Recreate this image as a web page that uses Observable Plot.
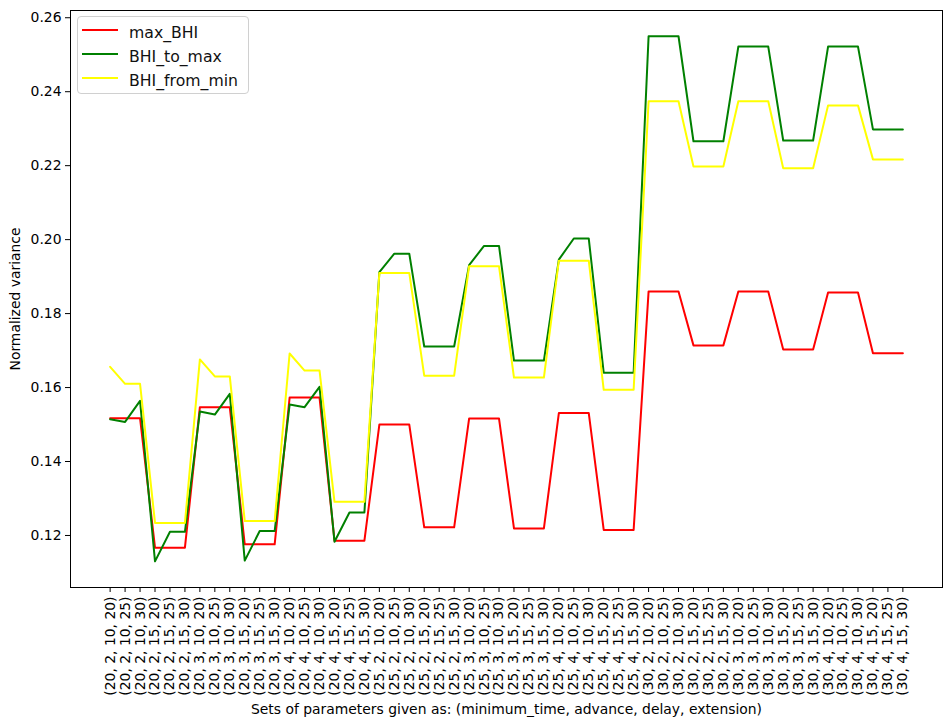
<!DOCTYPE html>
<html><head><meta charset="utf-8">
<script src="https://cdn.jsdelivr.net/npm/d3@7"></script>
<script src="https://cdn.jsdelivr.net/npm/@observablehq/plot@0.6"></script>
<style>
body{margin:0;background:#fff;font-family:"DejaVu Sans",sans-serif;}
#wrap{position:relative;width:952px;height:726px;}
#legend{position:absolute;left:77px;top:16px;width:170px;height:76px;background:rgba(255,255,255,0.8);border:1px solid #d0d0d0;border-radius:4px;}
#legend .row{position:absolute;left:4px;height:22px;display:flex;align-items:center;font-size:15.7px;color:#111;white-space:nowrap;}
#legend .sw{width:36px;height:2.5px;margin-right:11px;}
</style></head><body><div id="wrap"></div>
<script>
const categories = [
"(20, 2, 10, 20)","(20, 2, 10, 25)","(20, 2, 10, 30)","(20, 2, 15, 20)","(20, 2, 15, 25)","(20, 2, 15, 30)",
"(20, 3, 10, 20)","(20, 3, 10, 25)","(20, 3, 10, 30)","(20, 3, 15, 20)","(20, 3, 15, 25)","(20, 3, 15, 30)",
"(20, 4, 10, 20)","(20, 4, 10, 25)","(20, 4, 10, 30)","(20, 4, 15, 20)","(20, 4, 15, 25)","(20, 4, 15, 30)",
"(25, 2, 10, 20)","(25, 2, 10, 25)","(25, 2, 10, 30)","(25, 2, 15, 20)","(25, 2, 15, 25)","(25, 2, 15, 30)",
"(25, 3, 10, 20)","(25, 3, 10, 25)","(25, 3, 10, 30)","(25, 3, 15, 20)","(25, 3, 15, 25)","(25, 3, 15, 30)",
"(25, 4, 10, 20)","(25, 4, 10, 25)","(25, 4, 10, 30)","(25, 4, 15, 20)","(25, 4, 15, 25)","(25, 4, 15, 30)",
"(30, 2, 10, 20)","(30, 2, 10, 25)","(30, 2, 10, 30)","(30, 2, 15, 20)","(30, 2, 15, 25)","(30, 2, 15, 30)",
"(30, 3, 10, 20)","(30, 3, 10, 25)","(30, 3, 10, 30)","(30, 3, 15, 20)","(30, 3, 15, 25)","(30, 3, 15, 30)",
"(30, 4, 10, 20)","(30, 4, 10, 25)","(30, 4, 10, 30)","(30, 4, 15, 20)","(30, 4, 15, 25)","(30, 4, 15, 30)"
];
const maxBHI = [
0.1517,0.1517,0.1517, 0.1167,0.1167,0.1167, 0.1547,0.1547,0.1547, 0.1176,0.1176,0.1176, 0.1573,0.1573,0.1573, 0.1186,0.1186,0.1186,
0.1500,0.1500,0.1500, 0.1222,0.1222,0.1222, 0.1516,0.1516,0.1516, 0.1219,0.1219,0.1219, 0.1531,0.1531,0.1531, 0.1215,0.1215,0.1215,
0.1860,0.1860,0.1860, 0.1714,0.1714,0.1714, 0.1860,0.1860,0.1860, 0.1703,0.1703,0.1703, 0.1857,0.1857,0.1857, 0.1693,0.1693,0.1693
];
const bhiToMax = [
0.1514,0.1507,0.1564, 0.1130,0.1210,0.1210, 0.1535,0.1527,0.1583, 0.1132,0.1212,0.1212, 0.1554,0.1547,0.1602, 0.1183,0.1262,0.1262,
0.1912,0.1962,0.1962, 0.1711,0.1711,0.1711, 0.1931,0.1983,0.1983, 0.1673,0.1673,0.1673, 0.1946,0.2003,0.2003, 0.1640,0.1640,0.1640,
0.2550,0.2550,0.2550, 0.2266,0.2266,0.2266, 0.2522,0.2522,0.2522, 0.2268,0.2268,0.2268, 0.2522,0.2522,0.2522, 0.2298,0.2298,0.2298
];
const bhiFromMin = [
0.1656,0.1610,0.1610, 0.1234,0.1234,0.1234, 0.1676,0.1630,0.1630, 0.1239,0.1239,0.1239, 0.1692,0.1646,0.1646, 0.1291,0.1291,0.1291,
0.1910,0.1910,0.1910, 0.1632,0.1632,0.1632, 0.1928,0.1928,0.1928, 0.1627,0.1627,0.1627, 0.1943,0.1943,0.1943, 0.1594,0.1594,0.1594,
0.2374,0.2374,0.2374, 0.2198,0.2198,0.2198, 0.2374,0.2374,0.2374, 0.2193,0.2193,0.2193, 0.2363,0.2363,0.2363, 0.2217,0.2217,0.2217
];
const seriesNames = ["max_BHI","BHI_to_max","BHI_from_min"];
const seriesColors = ["#ff0000","#008000","#ffff00"];
const yTicks = [0.12,0.14,0.16,0.18,0.20,0.22,0.24,0.26];
const xLabel = "Sets of parameters given as: (minimum_time, advance, delay, extension)";
const yLabel = "Normalized variance";

const seriesValues = [maxBHI, bhiToMax, bhiFromMin];
const rows = [];
seriesValues.forEach((vals, s) => vals.forEach((v, i) => rows.push({cat: categories[i], value: v, series: seriesNames[s]})));

const chart = Plot.plot({
  width: 952, height: 726,
  marginLeft: 70, marginRight: 10, marginTop: 10, marginBottom: 139,
  style: {fontFamily: "DejaVu Sans, sans-serif", fontSize: "13.9px", color: "#000", background: "white", overflow: "visible"},
  x: {type: "point", domain: categories, padding: 2.65},
  y: {domain: [0.10593, 0.26196]},
  color: {domain: seriesNames, range: seriesColors},
  marks: [
    Plot.axisX({tickRotate: -90, tickSize: 5, tickPadding: 4, label: xLabel, labelAnchor: "center", labelOffset: 126, labelArrow: "none"}),
    Plot.axisY({ticks: yTicks, tickFormat: d3.format(".2f"), tickSize: 5, tickPadding: 4, label: yLabel, labelAnchor: "center", labelOffset: 60, labelArrow: "none"}),
    ...seriesNames.map(name => Plot.line(rows.filter(r => r.series === name), {x: "cat", y: "value", stroke: "series", strokeWidth: 2})),
    Plot.frame({stroke: "#000", strokeWidth: 1})
  ]
});
const wrap = document.getElementById("wrap");
wrap.appendChild(chart);

const legend = document.createElement("div");
legend.id = "legend";
seriesNames.forEach((name, i) => {
  const row = document.createElement("div");
  row.className = "row";
  row.style.top = (2 + i * 24) + "px";
  const sw = document.createElement("div");
  sw.className = "sw";
  sw.style.background = seriesColors[i];
  const t = document.createElement("span");
  t.textContent = name;
  t.style.marginTop = "4px";
  row.appendChild(sw); row.appendChild(t);
  legend.appendChild(row);
});
wrap.appendChild(legend);
</script>
</body></html>
